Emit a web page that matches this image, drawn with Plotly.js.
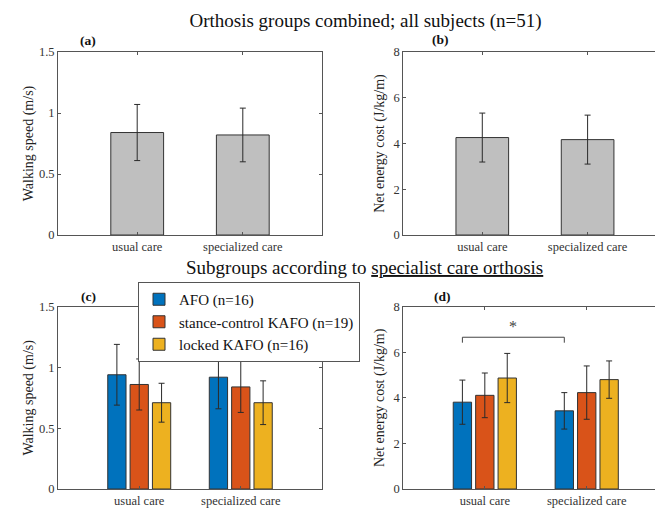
<!DOCTYPE html>
<html>
<head>
<meta charset="utf-8">
<script src="https://cdn.plot.ly/plotly-3.0.1.min.js"></script>
<style>html,body{margin:0;padding:0;background:#fff;}#chart{width:655px;height:511px;}</style>
</head>
<body>
<div id="chart"></div>
<script>
// ---- data ----
const categories = ['usual care', 'specialized care'];
const catPos = [1, 2];
const speedAll = [0.84, 0.82];
const speedAllErr = [0.23, 0.22];
const costAll = [4.26, 4.17];
const costAllErr = [1.07, 1.07];
const groupNames = ['AFO (n=16)', 'stance-control KAFO (n=19)', 'locked KAFO (n=16)'];
const speedAFO = [0.94, 0.92];
const speedAFOErr = [0.25, 0.26];
const speedSC = [0.86, 0.84];
const speedSCErr = [0.21, 0.21];
const speedLK = [0.71, 0.71];
const speedLKErr = [0.16, 0.18];
const costAFO = [3.81, 3.43];
const costAFOErr = [0.97, 0.80];
const costSC = [4.11, 4.23];
const costSCErr = [0.98, 1.17];
const costLK = [4.87, 4.80];
const costLKErr = [1.08, 0.82];
const sigPair = [0, 1];          // AFO usual vs AFO specialized (panel d)
const sigLevel = [6.42, 6.66];   // bracket foot / top (J/kg/m)
const sigStarY = 7.15;

// ---- styles ----
const FONT = '"Liberation Serif", "Times New Roman", Times, serif';
const colors = ['#0072BD', '#D95319', '#EDB120'];
const grey = '#BFBFBF';
const edge = '#333333';
const groupOffsets = [-0.31, -0.09, 0.13];
const groupWidth = 0.18;

function err(arr) {
  return {type: 'data', array: arr, visible: true, color: '#2a2a2a', thickness: 1, width: 3};
}

const traces = [];
traces.push({type: 'bar', x: catPos, y: speedAll, width: 0.5, offset: -0.25,
  marker: {color: grey, line: {color: edge, width: 1}}, error_y: err(speedAllErr),
  xaxis: 'x', yaxis: 'y', showlegend: false, hoverinfo: 'y'});
traces.push({type: 'bar', x: catPos, y: costAll, width: 0.5, offset: -0.25,
  marker: {color: grey, line: {color: edge, width: 1}}, error_y: err(costAllErr),
  xaxis: 'x2', yaxis: 'y2', showlegend: false, hoverinfo: 'y'});

const speedG = [speedAFO, speedSC, speedLK];
const speedGE = [speedAFOErr, speedSCErr, speedLKErr];
const costG = [costAFO, costSC, costLK];
const costGE = [costAFOErr, costSCErr, costLKErr];
for (let i = 0; i < 3; i++) {
  traces.push({type: 'bar', name: groupNames[i], x: catPos, y: speedG[i],
    width: groupWidth, offset: groupOffsets[i],
    marker: {color: colors[i], line: {color: edge, width: 1}}, error_y: err(speedGE[i]),
    xaxis: 'x3', yaxis: 'y3', showlegend: true, legendgroup: 'g' + i});
}
for (let i = 0; i < 3; i++) {
  traces.push({type: 'bar', name: groupNames[i], x: catPos, y: costG[i],
    width: groupWidth, offset: groupOffsets[i],
    marker: {color: colors[i], line: {color: edge, width: 1}}, error_y: err(costGE[i]),
    xaxis: 'x4', yaxis: 'y4', showlegend: false, legendgroup: 'g' + i});
}

const axLine = '#555555';
const tickFont = {family: FONT, size: 12.5, color: '#333333'};
function xax(domain, range, anchor, mirror) {
  return {domain: domain, range: range, anchor: anchor, tickmode: 'array', tickvals: catPos,
    ticktext: categories, ticks: 'inside', ticklen: 3, tickcolor: axLine, showline: true,
    linecolor: axLine, linewidth: 1, mirror: mirror, showgrid: false, zeroline: false,
    tickfont: tickFont, fixedrange: true};
}
function yax(domain, range, dtick, anchor, title, mirror, standoff) {
  return {domain: domain, range: range, dtick: dtick, anchor: anchor, ticks: 'inside', ticklen: 3,
    tickcolor: axLine, showline: true, linecolor: axLine, linewidth: 1, mirror: mirror,
    showgrid: false, zeroline: false, tickfont: tickFont, fixedrange: true,
    title: {text: title, font: {family: FONT, size: 14, color: '#222'}, standoff: standoff}};
}

const W = 655, H = 511;
const xdA = [58 / W, 322 / W], xdB = [403.3 / W, 1];
const ydTop = [1 - 235 / H, 1 - 52 / H], ydBot = [1 - 489 / H, 1 - 306.7 / H];

const pfont = {family: FONT, size: 13.5, color: '#111'};
function plabel(t, px, py) {
  return {text: '<b>' + t + '</b>', x: px / W, y: 1 - py / H, xref: 'paper', yref: 'paper',
    xanchor: 'center', yanchor: 'middle', showarrow: false, font: pfont};
}
const annotations = [
  plabel('(a)', 88, 41),
  plabel('(b)', 440, 39),
  plabel('(c)', 88, 296),
  plabel('(d)', 442, 296),
  {text: 'Subgroups according to <u>specialist care orthosis</u>', x: 364 / W, y: 1 - 267 / H,
   xref: 'paper', yref: 'paper', showarrow: false, xanchor: 'center', yanchor: 'middle',
   font: {family: FONT, size: 19, color: '#111'}},
  {text: '*', x: (catPos[sigPair[0]] + catPos[sigPair[1]]) / 2 + groupOffsets[0] + groupWidth / 2,
   y: sigStarY, xref: 'x4', yref: 'y4', xanchor: 'center', yanchor: 'middle', showarrow: false,
   font: {family: FONT, size: 16, color: '#444'}}
];

const bx0 = catPos[sigPair[0]] + groupOffsets[0] + groupWidth / 2;
const bx1 = catPos[sigPair[1]] + groupOffsets[0] + groupWidth / 2;
const shapes = [
  {type: 'path', xref: 'x4', yref: 'y4',
   path: 'M' + bx0 + ',' + sigLevel[0] + ' L' + bx0 + ',' + sigLevel[1] + ' L' + bx1 + ',' + sigLevel[1] + ' L' + bx1 + ',' + sigLevel[0],
   line: {color: '#444', width: 1}}
];

const layout = {
  width: W, height: H, margin: {l: 0, r: 0, t: 0, b: 0}, paper_bgcolor: '#fff', plot_bgcolor: '#fff',
  barmode: 'overlay',
  font: {family: FONT, color: '#222'},
  title: {text: 'Orthosis groups combined; all subjects (n=51)', x: 365.5 / W, xanchor: 'center',
    y: 1 - 20 / H, yanchor: 'middle', xref: 'paper', yref: 'paper',
    font: {family: FONT, size: 19, color: '#111'}},
  xaxis: xax(xdA, [0.25, 2.75], 'y', 'ticks'),
  yaxis: yax(ydTop, [0, 1.5], 0.5, 'x', 'Walking speed (m/s)', 'ticks', 1),
  xaxis2: xax(xdB, [0.25, 2.64], 'y2', 'ticks'),
  yaxis2: yax(ydTop, [0, 8], 2, 'x2', 'Net energy cost (J/kg/m)', false, 5),
  xaxis3: xax(xdA, [0.2, 2.8], 'y3', 'ticks'),
  yaxis3: yax(ydBot, [0, 1.5], 0.5, 'x3', 'Walking speed (m/s)', 'ticks', 1),
  xaxis4: xax(xdB, [0.2, 2.67], 'y4', 'ticks'),
  yaxis4: yax(ydBot, [0, 8], 2, 'x4', 'Net energy cost (J/kg/m)', false, 5),
  legend: {x: 138 / W, y: 1 - 282 / H, xanchor: 'left', yanchor: 'top', bgcolor: '#fff',
    bordercolor: '#555', borderwidth: 1, font: {family: FONT, size: 15, color: '#111'},
    tracegroupgap: 0, itemclick: false, itemdoubleclick: false},
  annotations: annotations,
  shapes: shapes
};

Plotly.newPlot('chart', traces, layout, {displayModeBar: false, staticPlot: true});
</script>
</body>
</html>
